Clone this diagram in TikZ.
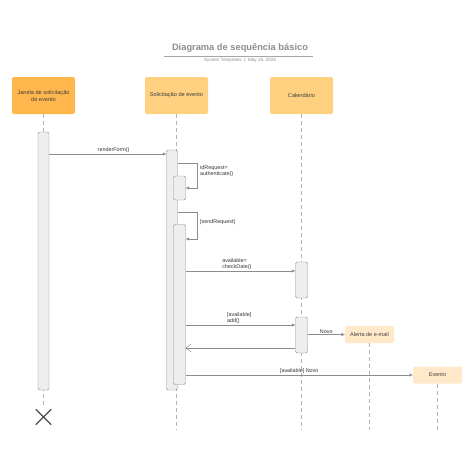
\documentclass[tikz,border=0pt]{standalone}
\usepackage{fontspec}
\setmainfont{Liberation Sans}
\usetikzlibrary{positioning,arrows.meta,shapes.misc}
\definecolor{headdark}{HTML}{FFB74D}
\definecolor{headmid}{HTML}{FFD07F}
\definecolor{headlight}{HTML}{FFE9C9}
\definecolor{wire}{HTML}{8C8C8C}
\definecolor{barfill}{HTML}{EEEEEE}

\begin{document}
\begin{tikzpicture}[
    x=1pt, y=-1pt,
    head/.style={rectangle, rounded corners=2pt, minimum width=63pt, minimum height=37pt, align=center, font=\fontsize{5.6}{7}\selectfont, text=black!75},
    small/.style={rectangle, rounded corners=1.5pt, fill=headlight, minimum width=49pt, minimum height=17pt, font=\fontsize{5.5}{6.5}\selectfont, text=black!75},
    bar/.style={draw=wire, fill=barfill, rounded corners=1.5pt, minimum width=12pt, inner sep=0pt},
    life/.style={draw=black!30, line width=0.6pt, dash pattern=on 4pt off 3pt},
    msg/.style={draw=wire, line width=0.5pt, -{Triangle[length=3.5pt,width=3pt]}},
    back/.style={draw=wire, line width=0.5pt, -{Straight Barb[length=5pt,width=8pt]}},
    lbl/.style={font=\fontsize{5.4}{6.3}\selectfont, text=black!80, inner sep=1pt, align=left}
]
\useasboundingbox (0,0) rectangle (474,474);

% title
\node[font=\bfseries\fontsize{9.3}{10}\selectfont, text=black!45] (title) at (240,48) {Diagrama de sequência básico};
\draw[black!35, line width=0.6pt] (164,56) -- (313,56);
\node[font=\fontsize{4.6}{5}\selectfont, text=black!45] (sub) at (240,60.5) {System Templates \ | \ May 16, 2024};

% lifeline heads
\node[head, fill=headdark] (jan) at (43.5,95.5) {Janela de solicitação\\de evento};
\node[head, fill=headmid] (sol) at (176.5,95.5) {Solicitação de evento};
\node[head, fill=headmid] (cal) at (301.5,95.5) {Calendário};
\node[small] (alerta) at (369.5,334.5) {Alerta de e-mail};
\node[small] (evento) at (437.5,375) {Evento};

% dashed lifelines
\coordinate (janend) at (43.5,405);
\coordinate (solend) at (176.5,430);
\coordinate (calend) at (301.5,430);
\draw[life] (jan.south) -- (janend);
\draw[life] (sol.south) -- (solend);
\draw[life] (cal.south) -- (calend);
\draw[life] (alerta.south) -- (alerta.south |- calend);
\draw[life] (evento.south) -- (evento.south |- calend);

% activation bars
\node[bar, minimum width=11pt, minimum height=258pt] (janbar) at (43.5,261) {};
\node[bar, minimum width=11pt, minimum height=240pt] (solbar) at (172,270) {};
\node[bar, minimum height=24pt] (auth) at (179.5,188) {};
\node[bar, minimum height=160pt] (send) at (179.5,304.5) {};
\node[bar, minimum height=36pt] (check) at (301.5,280) {};
\node[bar, minimum height=36pt] (add) at (301.5,335) {};

% destroy mark
\node[draw=black!70, line width=1.4pt, cross out, minimum size=14pt, inner sep=0pt] (kill) at (43.5,417) {};

% messages
\coordinate (m1) at (0,154);
\draw[msg] (janbar.east |- m1) -- node[lbl, above, pos=0.55] {renderForm()} (solbar.west |- m1);

\coordinate (loopa) at (197,163);
\draw[msg] (solbar.east |- loopa) -- (loopa) -- (197,188) -- (auth.east |- 0,188);
\node[lbl, anchor=south west] (authlbl) at (199,178) {idRequest=\\authenticate()};

\coordinate (loopb) at (197,212);
\draw[msg] (solbar.east |- loopb) -- (loopb) -- (197,239) -- (send.east |- 0,239);
\node[lbl, anchor=west] (sendlbl) at (199,222) {[sendRequest]};

\coordinate (m3) at (0,271);
\draw[msg] (send.east |- m3) -- node[lbl, above left, pos=0.72, xshift=-12pt] {available=\\checkDate()} (check.west |- m3);

\coordinate (m4) at (0,325);
\draw[msg] (send.east |- m4) -- node[lbl, above left, pos=0.72, xshift=-12pt] {[available]\\add()} (add.west |- m4);

\draw[msg] (add.east |- alerta.west) -- node[lbl, above, pos=0.5] {Novo} (alerta.west);

\coordinate (m6) at (0,348);
\draw[back] (add.west |- m6) -- (send.east |- m6);

\draw[msg] (send.east |- evento.west) -- node[lbl, above, pos=0.5] {[available] Novo} (evento.west);

\end{tikzpicture}
\end{document}
